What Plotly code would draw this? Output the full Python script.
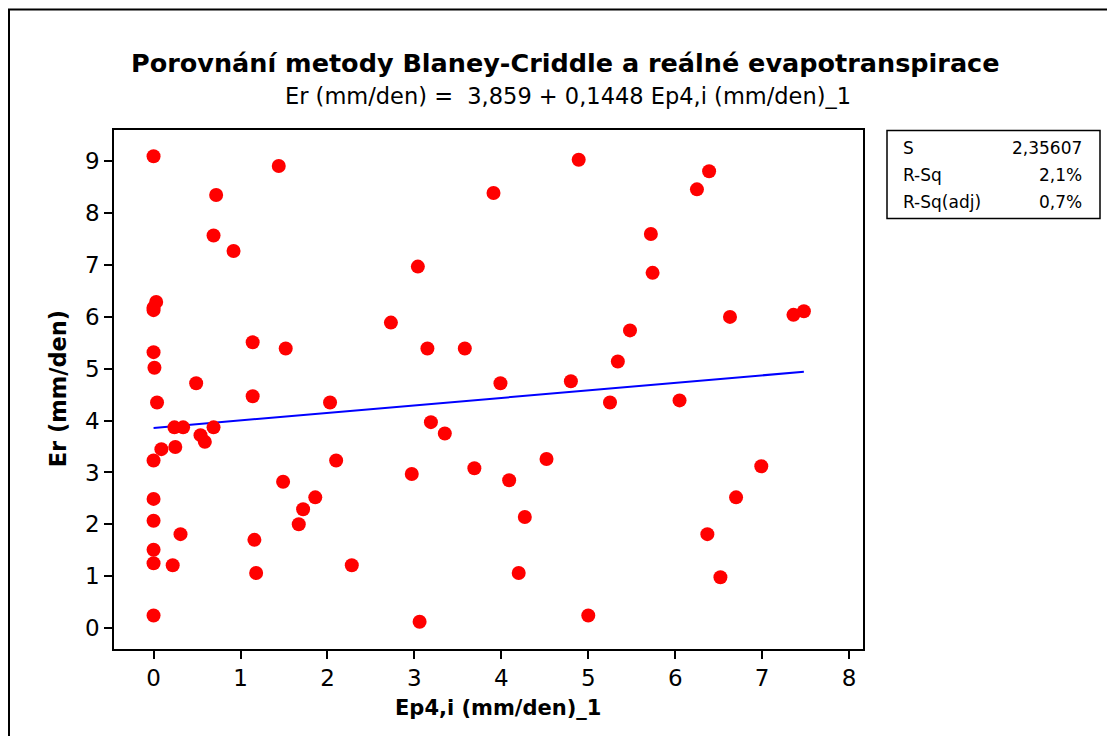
import numpy as np
import plotly.graph_objects as go

# Ep4,i (mm/den)_1 vs Er (mm/den)
ep4 = [0.0, 1.44, 0.72, 3.91, 0.69, 0.92, 3.04, 0.03, 0.0, 0.0,
       2.73, 0.0, 0.01, 1.14, 1.52, 3.15, 3.58, 0.49, 3.99, 0.04,
       1.14, 2.03, 0.24, 0.34, 0.69, 0.54, 0.59, 0.09, 0.25, 0.0,
       2.10, 1.49, 2.97, 3.69, 0.0, 1.86, 1.72, 1.67, 0.0, 0.31,
       1.16, 0.0, 0.0, 0.22, 2.28, 1.18, 0.0, 3.06, 3.19, 3.35,
       4.89, 6.39, 6.25, 5.72, 5.74, 6.63, 7.36, 7.48, 5.48, 5.34,
       4.80, 5.25, 6.05, 4.52, 4.09, 6.99, 6.70, 4.27, 6.37, 4.20,
       6.52, 5.00]
er = [9.10, 8.91, 8.35, 8.39, 7.57, 7.27, 6.97, 6.29, 6.13, 6.18,
      5.89, 5.32, 5.02, 5.51, 5.39, 5.39, 5.39, 4.72, 4.72, 4.35,
      4.47, 4.35, 3.87, 3.87, 3.87, 3.72, 3.59, 3.45, 3.49, 3.23,
      3.23, 2.82, 2.97, 3.08, 2.49, 2.52, 2.29, 2.00, 2.07, 1.81,
      1.70, 1.51, 1.25, 1.21, 1.21, 1.06, 0.24, 0.12, 3.97, 3.75,
      9.03, 8.81, 8.46, 7.60, 6.85, 6.00, 6.04, 6.11, 5.74, 5.14,
      4.76, 4.35, 4.39, 3.26, 2.85, 3.12, 2.52, 2.14, 1.81, 1.06,
      0.98, 0.24]

# regression from the chart subtitle
intercept = 3.859
slope = 0.1448
stat_names = ['S', 'R-Sq', 'R-Sq(adj)']
stat_values = ['2,35607', '2,1%', '0,7%']

x_ticks = list(range(0, 9))
y_ticks = list(range(0, 10))

FONT = 'DejaVu Sans'
OFF = 8  # page body margin
W, H = 1115 - 2 * OFF, 744 - 2 * OFF
# plot area in screen pixels
L, R, T, B = 114, 863, 129.5, 649


def px(x):
    return (x - L) / (R - L)


def py(y):
    return (B - y) / (B - T)


line_x = np.linspace(min(ep4), max(ep4), 50)
line_y = intercept + slope * line_x

fig = go.Figure()
fig.add_trace(go.Scatter(x=line_x, y=line_y, mode='lines',
                         line=dict(color='#0000ff', width=2),
                         hoverinfo='skip'))
fig.add_trace(go.Scatter(x=ep4, y=er, mode='markers',
                         marker=dict(color='#ff0000', size=14,
                                     line=dict(width=0))))

axis_common = dict(showline=True, linecolor='black', linewidth=1.5,
                   mirror=True, ticks='outside', ticklen=8, tickwidth=1.5,
                   tickcolor='black', showgrid=False, zeroline=False,
                   tickfont=dict(family=FONT, size=23, color='black'))

fig.update_layout(
    width=W, height=H,
    margin=dict(l=L - OFF, r=W + OFF - R, t=T - OFF, b=H + OFF - B),
    paper_bgcolor='white', plot_bgcolor='white',
    showlegend=False,
    xaxis=dict(range=[-0.455, 8.16], tickvals=x_ticks, **axis_common),
    yaxis=dict(range=[-0.405, 9.605], tickvals=y_ticks, **axis_common),
)

annotations = [
    dict(text='<b>Porovnání metody Blaney-Criddle a reálné evapotranspirace</b>',
         x=px(565), y=py(62), font=dict(size=25.5)),
    dict(text='Er (mm/den) =  3,859 + 0,1448 Ep4,i (mm/den)_1',
         x=px(568), y=py(95), font=dict(size=22.5)),
    dict(text='<b>Ep4,i (mm/den)_1</b>', x=px(498), y=py(708),
         font=dict(size=21)),
    dict(text='<b>Er (mm/den)</b>', x=px(58), y=py(389), textangle=-90,
         font=dict(size=22.5)),
]
rows_y = [148, 175, 202]
for name, val, ry in zip(stat_names, stat_values, rows_y):
    annotations.append(dict(text=name, x=px(901), y=py(ry), xanchor='left',
                            font=dict(size=17)))
    annotations.append(dict(text=val, x=px(1084), y=py(ry), xanchor='right',
                            font=dict(size=17)))
for a in annotations:
    a.setdefault('xanchor', 'center')
    a.update(xref='paper', yref='paper', yanchor='middle', showarrow=False)
    a['font'] = dict(family=FONT, color='black', **a['font'])
fig.update_layout(annotations=annotations)

fig.update_layout(shapes=[
    # stats box
    dict(type='rect', xref='paper', yref='paper',
         x0=px(887), x1=px(1100), y0=py(218), y1=py(130),
         line=dict(color='black', width=1.5)),
    # outer frame of the graph window
    dict(type='rect', xref='paper', yref='paper',
         x0=px(9), x1=px(1140), y0=py(780), y1=py(9),
         line=dict(color='black', width=2)),
])

fig.write_html('out.html')
